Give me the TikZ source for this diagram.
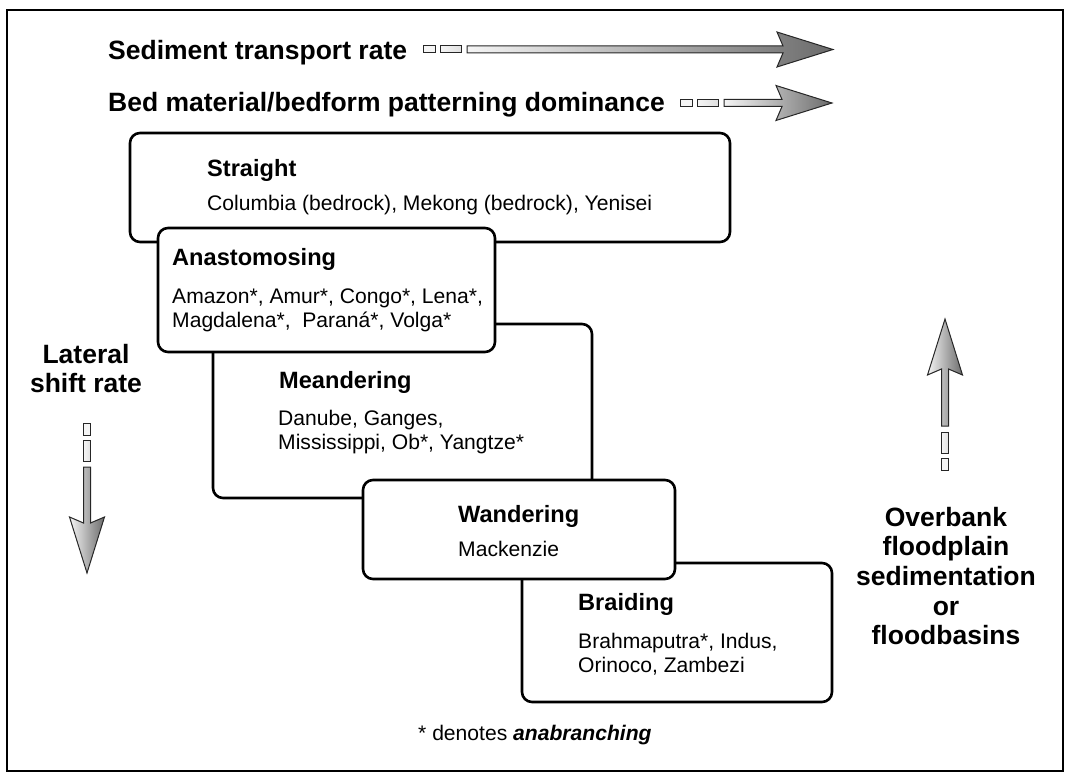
\documentclass[tikz,border=0pt]{standalone}
\usepackage{fontspec}
\setmainfont{Liberation Sans}
\usepackage{tikz}
\usetikzlibrary{positioning}
\newcommand{\lines}[1]{\begin{tabular}[t]{@{}l@{}}#1\end{tabular}}
\newcommand{\clines}[1]{\begin{tabular}[t]{@{}c@{}}#1\end{tabular}}
\newcommand{\fadearrow}[3]{% origin, angle, length
  \begin{scope}[shift={#1}, rotate=#2]
    \draw[arrowline, fill=black!4] (0,-3.5) rectangle (12,3.5);
    \draw[arrowline, left color=black!4, right color=black!12] (17,-3.5) rectangle (38,3.5);
    \draw[arrowline, left color=black!4, right color=black!58]
      (44,-3.5) -- ({#3-50},-3.5) -- ({#3-56},-17.5) -- (#3,0) -- ({#3-56},17.5) -- ({#3-50},3.5) -- (44,3.5) -- cycle;
  \end{scope}}
\tikzstyle{riverbox} = [draw, line width=2.6pt, rounded corners=10pt, fill=white, inner sep=0pt]
\tikzstyle{boxtitle} = [font=\fontsize{23.6}{28}\selectfont\bfseries, anchor=base west, inner sep=0pt]
\tikzstyle{boxtext} = [font=\fontsize{21.1}{24}\selectfont, anchor=base west, inner sep=0pt]
\tikzstyle{headline} = [font=\fontsize{26.5}{30}\selectfont\bfseries, anchor=base west, inner sep=0pt]
\tikzstyle{sidelabel} = [font=\fontsize{26.5}{29.7}\selectfont\bfseries, anchor=base, inner sep=0pt]
\tikzstyle{arrowline} = [draw=black!85, line width=1pt]
\begin{document}
\begin{tikzpicture}[x=1pt, y=-1pt]
	\useasboundingbox (0,0) rectangle (1066,773);
	\draw[line width=2pt] (7,10) rectangle (1063,771);
	% headings with their arrows
	\node[headline] (sediment) at (108,60) {Sediment transport rate};
	\node[headline] (bedmat) at (108,112) {Bed material/bedform patterning dominance};
	\fadearrow{(423,49.5)}{0}{410}
	\fadearrow{(680,103)}{0}{152}
	% channel pattern boxes
	\node[riverbox, minimum width=600, minimum height=109] (straight) at (430,187.5) {};
	\node[riverbox, minimum width=379, minimum height=174] (meander) at (402.5,411) {};
	\node[riverbox, minimum width=310, minimum height=139] (braid) at (677,632.5) {};
	\node[riverbox, minimum width=337, minimum height=124] (anast) at (326.5,290) {};
	\node[riverbox, minimum width=312, minimum height=99] (wander) at (519,529.5) {};
	\node[boxtitle] (straighttitle) at (207,176) {Straight};
	\node[boxtext] (straighttext) at (207,211) {Columbia (bedrock), Mekong (bedrock), Yenisei};
	\node[boxtitle] (anasttitle) at (172,265) {Anastomosing};
	\node[boxtext] (anasttext) at (172,303) {\lines{Amazon*, Amur*, Congo*, Lena*,\\Magdalena*, \ Paraná*, Volga*}};
	\node[boxtitle] (meandertitle) at (279,388) {Meandering};
	\node[boxtext] (meandertext) at (278,425) {\lines{Danube, Ganges,\\Mississippi, Ob*, Yangtze*}};
	\node[boxtitle] (wandertitle) at (458,522) {Wandering};
	\node[boxtext] (wandertext) at (458,556) {Mackenzie};
	\node[boxtitle] (braidtitle) at (578,610) {Braiding};
	\node[boxtext] (braidtext) at (578,648) {\lines{Brahmaputra*, Indus,\\Orinoco, Zambezi}};
	% side labels
	\node[sidelabel] (lateral) at (86,363) {\clines{Lateral\\shift rate}};
	\fadearrow{(87,423)}{-90}{150}
	\node[sidelabel] (overbank) at (946,526) {\clines{Overbank\\floodplain\\sedimentation\\or\\floodbasins}};
	\fadearrow{(945,470)}{90}{151}
	\node[boxtext] (note) at (418,740) {* denotes \textbf{\textit{anabranching}}};
\end{tikzpicture}
\end{document}
